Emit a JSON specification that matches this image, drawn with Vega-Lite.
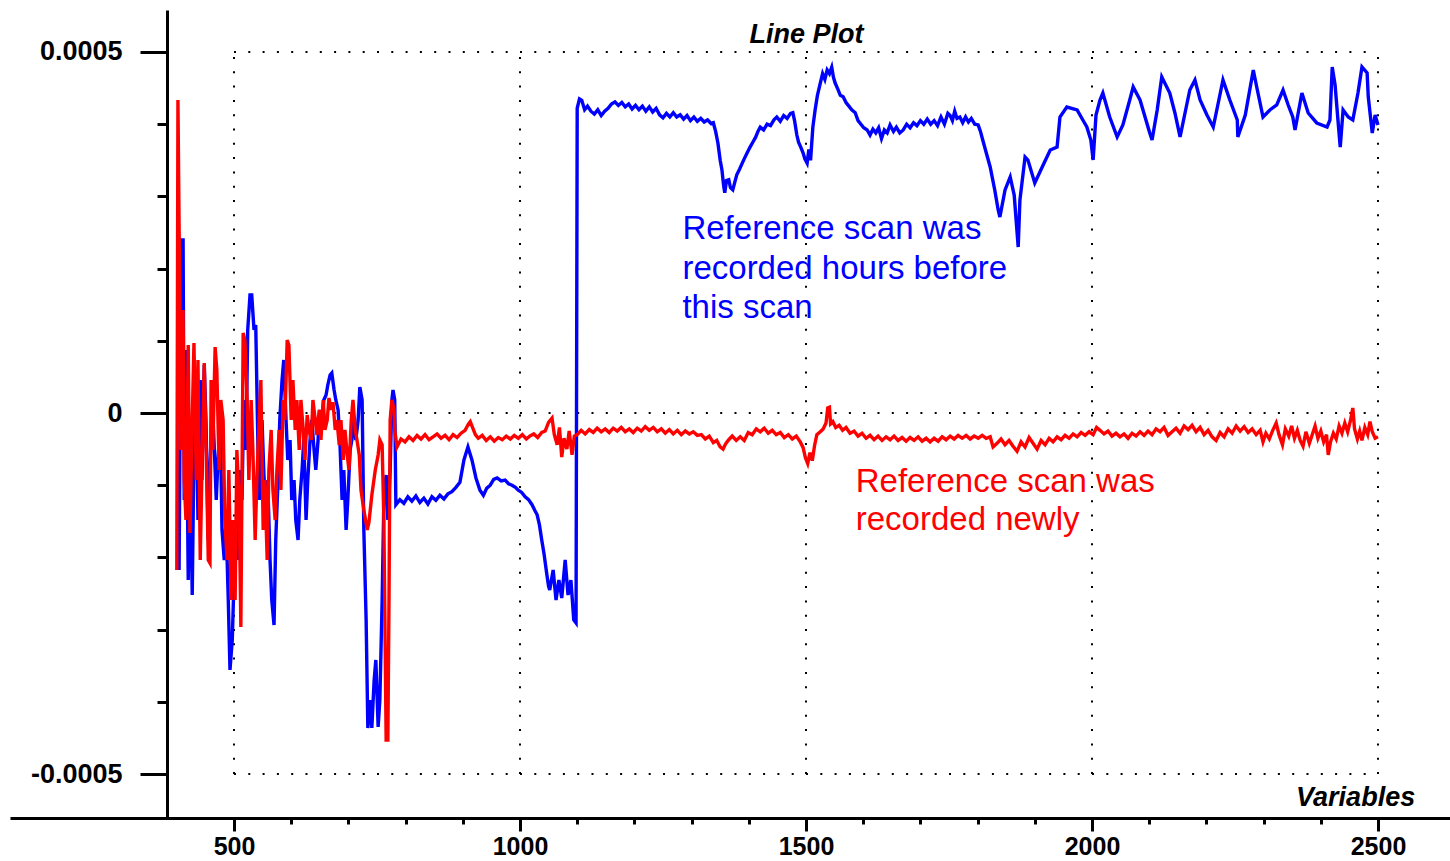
{
  "$schema": "https://vega.github.io/schema/vega-lite/v6.json",
  "width": 1440,
  "height": 808,
  "autosize": {"type": "none"},
  "padding": {"left": 10, "top": 10, "right": 0, "bottom": 43},
  "background": "white",
  "config": {"view": {"stroke": null}},
  "datasets": {
    "blue": [
      {"x":404,"y":-0.0002175},{"x":406,"y":0.0000180},{"x":407,"y":0.0002396},{"x":411,"y":0.0002396},{"x":413,"y":-0.0001205},{"x":416,"y":0.0000873},{"x":420,"y":-0.0002313},{"x":423,"y":-0.0000512},{"x":427,"y":-0.0002521},{"x":430,"y":-0.0000512},{"x":434,"y":0.0000180},{"x":437,"y":-0.0001482},{"x":441,"y":0.0000457},{"x":444,"y":-0.0000928},{"x":448,"y":0.0000665},{"x":451,"y":-0.0000097},{"x":455,"y":-0.0001759},{"x":458,"y":-0.0000789},{"x":462,"y":0.0000180},{"x":465,"y":-0.0000374},{"x":469,"y":-0.0001205},{"x":472,"y":-0.0000651},{"x":476,"y":-0.0000097},{"x":479,"y":-0.0001620},{"x":483,"y":-0.0002036},{"x":486,"y":-0.0001482},{"x":490,"y":-0.0002590},{"x":493,"y":-0.0003559},{"x":497,"y":-0.0003144},{"x":500,"y":-0.0002313},{"x":503,"y":-0.0001482},{"x":507,"y":-0.0002036},{"x":510,"y":-0.0000789},{"x":514,"y":-0.0001205},{"x":517,"y":0.0000180},{"x":521,"y":-0.0000512},{"x":524,"y":0.0001150},{"x":528,"y":0.0001634},{"x":531,"y":0.0001634},{"x":535,"y":0.0001150},{"x":538,"y":0.0001219},{"x":542,"y":-0.0000512},{"x":545,"y":-0.0001205},{"x":549,"y":-0.0000097},{"x":552,"y":-0.0000789},{"x":556,"y":-0.0001482},{"x":559,"y":-0.0000928},{"x":563,"y":-0.0002036},{"x":566,"y":-0.0002590},{"x":570,"y":-0.0002936},{"x":573,"y":-0.0001759},{"x":577,"y":-0.0000928},{"x":580,"y":-0.0000097},{"x":584,"y":0.0000457},{"x":587,"y":0.0000734},{"x":591,"y":-0.0000097},{"x":594,"y":-0.0000651},{"x":598,"y":-0.0000374},{"x":601,"y":-0.0001205},{"x":605,"y":-0.0000928},{"x":608,"y":-0.0001482},{"x":612,"y":-0.0001759},{"x":615,"y":-0.0001205},{"x":619,"y":-0.0000789},{"x":622,"y":-0.0000374},{"x":626,"y":-0.0001482},{"x":629,"y":-0.0000928},{"x":633,"y":-0.0000374},{"x":636,"y":-0.0000097},{"x":640,"y":-0.0000512},{"x":643,"y":-0.0000789},{"x":647,"y":-0.0000374},{"x":650,"y":0.0000042},{"x":654,"y":-0.0000097},{"x":657,"y":0.0000180},{"x":661,"y":0.0000249},{"x":664,"y":0.0000388},{"x":668,"y":0.0000526},{"x":671,"y":0.0000554},{"x":675,"y":0.0000319},{"x":678,"y":0.0000180},{"x":682,"y":0.0000042},{"x":685,"y":-0.0000374},{"x":689,"y":-0.0001205},{"x":692,"y":-0.0000789},{"x":696,"y":-0.0001620},{"x":699,"y":-0.0001205},{"x":703,"y":-0.0000512},{"x":706,"y":-0.0000374},{"x":710,"y":-0.0000097},{"x":713,"y":-0.0000374},{"x":717,"y":-0.0000097},{"x":720,"y":0.0000360},{"x":724,"y":0.0000180},{"x":727,"y":-0.0001620},{"x":731,"y":-0.0002867},{"x":734,"y":-0.0004363},{"x":738,"y":-0.0003975},{"x":741,"y":-0.0004363},{"x":745,"y":-0.0003698},{"x":748,"y":-0.0003421},{"x":752,"y":-0.0004349},{"x":755,"y":-0.0003975},{"x":759,"y":-0.0002590},{"x":762,"y":-0.0001205},{"x":766,"y":-0.0000859},{"x":769,"y":-0.0001482},{"x":773,"y":-0.0000789},{"x":776,"y":0.0000180},{"x":778,"y":0.0000319},{"x":781,"y":0.0000180},
      {"x":783,"y":-0.000127},{"x":790,"y":-0.000120},{"x":797,"y":-0.000125},{"x":804,"y":-0.000116},{"x":811,"y":-0.000122},{"x":818,"y":-0.000115},{"x":825,"y":-0.000124},{"x":832,"y":-0.000118},{"x":839,"y":-0.000126},{"x":846,"y":-0.000116},{"x":853,"y":-0.000121},{"x":860,"y":-0.000114},{"x":867,"y":-0.000119},{"x":874,"y":-0.000112},{"x":881,"y":-0.000109},{"x":888,"y":-0.000103},{"x":895,"y":-0.000096},{"x":902,"y":-0.000065},{"x":909,"y":-0.000047},{"x":916,"y":-0.000065},{"x":923,"y":-0.000090},{"x":930,"y":-0.000107},{"x":936,"y":-0.000114},{"x":942,"y":-0.000104},{"x":948,"y":-0.000100},{"x":954,"y":-0.000092},{"x":960,"y":-0.000090},{"x":967,"y":-0.000094},{"x":974,"y":-0.000093},{"x":980,"y":-0.000098},{"x":986,"y":-0.000100},{"x":992,"y":-0.000103},{"x":997,"y":-0.000107},{"x":1003,"y":-0.000110},{"x":1009,"y":-0.000116},{"x":1015,"y":-0.000120},{"x":1021,"y":-0.000127},{"x":1026,"y":-0.000135},{"x":1030,"y":-0.000141},{"x":1034,"y":-0.000155},{"x":1038,"y":-0.000176},{"x":1042,"y":-0.000195},{"x":1047,"y":-0.000224},{"x":1050,"y":-0.000240},{"x":1052,"y":-0.000245},{"x":1058,"y":-0.0002175},{"x":1063,"y":-0.0002590},{"x":1068,"y":-0.0002313},{"x":1073,"y":-0.0002562},{"x":1079,"y":-0.0002036},{"x":1084,"y":-0.0002521},{"x":1089,"y":-0.0002313},{"x":1094,"y":-0.0002867},{"x":1098,"y":-0.0002909},
      {"x":1100,"y":0.000422},{"x":1104,"y":0.000435},{"x":1108,"y":0.000433},{"x":1113,"y":0.000420},{"x":1118,"y":0.000425},{"x":1124,"y":0.000418},{"x":1130,"y":0.000414},{"x":1136,"y":0.000420},{"x":1142,"y":0.000412},{"x":1148,"y":0.000418},{"x":1154,"y":0.000422},{"x":1160,"y":0.000428},{"x":1166,"y":0.000431},{"x":1172,"y":0.000426},{"x":1178,"y":0.000430},{"x":1184,"y":0.000424},{"x":1190,"y":0.000428},{"x":1196,"y":0.000421},{"x":1202,"y":0.000426},{"x":1208,"y":0.000420},{"x":1214,"y":0.000425},{"x":1220,"y":0.000418},{"x":1226,"y":0.000424},{"x":1232,"y":0.000417},{"x":1238,"y":0.000422},{"x":1244,"y":0.000413},{"x":1250,"y":0.000409},{"x":1256,"y":0.000415},{"x":1262,"y":0.000410},{"x":1268,"y":0.000416},{"x":1274,"y":0.000410},{"x":1280,"y":0.000413},{"x":1286,"y":0.000407},{"x":1292,"y":0.000412},{"x":1298,"y":0.000405},{"x":1304,"y":0.000410},{"x":1310,"y":0.000404},{"x":1316,"y":0.000408},{"x":1322,"y":0.000403},{"x":1328,"y":0.000406},{"x":1334,"y":0.000401},{"x":1338,"y":0.000402},{"x":1342,"y":0.000390},{"x":1346,"y":0.000374},{"x":1350,"y":0.000350},{"x":1353,"y":0.000337},{"x":1356,"y":0.000315},{"x":1358,"y":0.000305},{"x":1361,"y":0.000322},{"x":1365,"y":0.000323},{"x":1368,"y":0.000312},{"x":1372,"y":0.000309},{"x":1375,"y":0.000318},{"x":1379,"y":0.000330},{"x":1384,"y":0.000338},{"x":1388,"y":0.000345},{"x":1392,"y":0.000352},{"x":1397,"y":0.000360},{"x":1402,"y":0.000368},{"x":1407,"y":0.000375},{"x":1412,"y":0.000382},{"x":1416,"y":0.000390},{"x":1420,"y":0.000396},{"x":1426,"y":0.000392},{"x":1432,"y":0.000400},{"x":1438,"y":0.000398},{"x":1444,"y":0.000406},{"x":1449,"y":0.000410},{"x":1455,"y":0.000404},{"x":1461,"y":0.000412},{"x":1467,"y":0.000408},{"x":1473,"y":0.000415},{"x":1477,"y":0.000416},{"x":1480,"y":0.000405},{"x":1484,"y":0.000385},{"x":1487,"y":0.000375},{"x":1491,"y":0.000368},{"x":1495,"y":0.000360},{"x":1498,"y":0.000352},{"x":1502,"y":0.000346},{"x":1505,"y":0.000365},{"x":1508,"y":0.000350},{"x":1512,"y":0.000396},{"x":1516,"y":0.000420},{"x":1520,"y":0.000440},{"x":1525,"y":0.000457},{"x":1529,"y":0.000470},{"x":1533,"y":0.000462},{"x":1537,"y":0.000475},{"x":1541,"y":0.000470},{"x":1545,"y":0.000479},{"x":1548,"y":0.000465},{"x":1551,"y":0.000457},{"x":1556,"y":0.000448},{"x":1560,"y":0.000440},{"x":1565,"y":0.000438},{"x":1570,"y":0.000430},{"x":1575,"y":0.000425},{"x":1580,"y":0.000420},{"x":1586,"y":0.000416},{"x":1591,"y":0.000405},{"x":1596,"y":0.000400},{"x":1601,"y":0.000395},{"x":1607,"y":0.000392},{"x":1612,"y":0.000385},{"x":1617,"y":0.000393},{"x":1622,"y":0.000388},{"x":1627,"y":0.000395},{"x":1632,"y":0.000380},{"x":1637,"y":0.000392},{"x":1642,"y":0.000388},{"x":1647,"y":0.000399},{"x":1653,"y":0.000390},{"x":1658,"y":0.000396},{"x":1664,"y":0.000388},{"x":1670,"y":0.000392},{"x":1676,"y":0.000400},{"x":1682,"y":0.000395},{"x":1688,"y":0.000402},{"x":1694,"y":0.000398},{"x":1700,"y":0.000405},{"x":1706,"y":0.000400},{"x":1712,"y":0.000407},{"x":1718,"y":0.000400},{"x":1724,"y":0.000405},{"x":1730,"y":0.000398},{"x":1736,"y":0.000410},{"x":1742,"y":0.000400},{"x":1748,"y":0.000415},{"x":1752,"y":0.000412},{"x":1756,"y":0.000405},{"x":1760,"y":0.000418},{"x":1764,"y":0.000408},{"x":1769,"y":0.000410},{"x":1774,"y":0.000402},{"x":1779,"y":0.000410},{"x":1784,"y":0.000403},{"x":1789,"y":0.000408},{"x":1795,"y":0.000400},{"x":1801,"y":0.000399},{"x":1805,"y":0.000390},
      {"x":1809,"y":0.0003781},{"x":1822,"y":0.0003407},{"x":1830,"y":0.0003089},{"x":1836,"y":0.0002812},{"x":1839,"y":0.0002715},{"x":1848,"y":0.0003089},{"x":1857,"y":0.0003269},{"x":1864,"y":0.0003019},{"x":1871,"y":0.0002299},{"x":1874,"y":0.0002950},{"x":1883,"y":0.0003546},{"x":1888,"y":0.0003504},{"x":1900,"y":0.0003186},{"x":1913,"y":0.0003407},{"x":1927,"y":0.0003643},{"x":1939,"y":0.0003684},{"x":1944,"y":0.0004100},{"x":1956,"y":0.0004238},{"x":1974,"y":0.0004197},{"x":1984,"y":0.0004058},{"x":1991,"y":0.0003961},{"x":1998,"y":0.0003781},{"x":2002,"y":0.0003504},{"x":2007,"y":0.0004127},{"x":2014,"y":0.0004335},{"x":2019,"y":0.0004432},{"x":2031,"y":0.0004100},{"x":2044,"y":0.0003823},{"x":2054,"y":0.0003989},{"x":2066,"y":0.0004335},{"x":2072,"y":0.0004515},{"x":2084,"y":0.0004335},{"x":2101,"y":0.0003878},{"x":2105,"y":0.0003781},{"x":2114,"y":0.0004197},{"x":2122,"y":0.0004654},{"x":2136,"y":0.0004432},{"x":2145,"y":0.0004155},{"x":2154,"y":0.0003823},{"x":2163,"y":0.0004169},{"x":2171,"y":0.0004474},{"x":2180,"y":0.0004612},{"x":2189,"y":0.0004335},{"x":2201,"y":0.0004127},{"x":2212,"y":0.0003961},{"x":2220,"y":0.0004266},{"x":2229,"y":0.0004612},{"x":2241,"y":0.0004335},{"x":2254,"y":0.0004058},{"x":2255,"y":0.0003823},{"x":2268,"y":0.0004127},{"x":2282,"y":0.0004751},{"x":2288,"y":0.0004515},{"x":2299,"y":0.0004100},{"x":2311,"y":0.0004197},{"x":2323,"y":0.0004266},{"x":2334,"y":0.0004474},{"x":2343,"y":0.0004266},{"x":2351,"y":0.0004100},{"x":2355,"y":0.0003920},{"x":2367,"y":0.0004432},{"x":2378,"y":0.0004155},{"x":2393,"y":0.0004017},{"x":2411,"y":0.0003961},{"x":2416,"y":0.0004058},{"x":2420,"y":0.0004792},{"x":2425,"y":0.0004543},{"x":2430,"y":0.0004058},{"x":2434,"y":0.0003684},{"x":2439,"y":0.0004197},{"x":2448,"y":0.0004100},{"x":2456,"y":0.0004058},{"x":2465,"y":0.0004432},{"x":2472,"y":0.0004792},{"x":2481,"y":0.0004709},{"x":2483,"y":0.0004377},{"x":2490,"y":0.0003878},{"x":2495,"y":0.0004127},{"x":2500,"y":0.0003989}
    ],
    "red": [
      {"x":400,"y":-0.0002175},{"x":402,"y":0.0004335},{"x":406,"y":0.0000873},{"x":407,"y":-0.0000512},{"x":411,"y":0.0001427},{"x":413,"y":-0.0000928},{"x":416,"y":-0.0001482},{"x":420,"y":0.0000942},{"x":423,"y":-0.0001662},{"x":427,"y":-0.0000097},{"x":430,"y":0.0000970},{"x":434,"y":-0.0000928},{"x":437,"y":0.0000734},{"x":441,"y":-0.0002036},{"x":444,"y":-0.0000789},{"x":448,"y":0.0000693},{"x":451,"y":-0.0000374},{"x":455,"y":-0.0002036},{"x":458,"y":-0.0002078},{"x":460,"y":0.0000457},{"x":463,"y":-0.0000512},{"x":467,"y":0.0000914},{"x":470,"y":0.0000596},{"x":474,"y":-0.0000789},{"x":477,"y":0.0000180},{"x":481,"y":-0.0000097},{"x":484,"y":-0.0001482},{"x":488,"y":-0.0002036},{"x":491,"y":-0.0000789},{"x":495,"y":-0.0002590},{"x":498,"y":-0.0001482},{"x":502,"y":-0.0002590},{"x":505,"y":-0.0000512},{"x":509,"y":-0.0001205},{"x":512,"y":-0.0002964},{"x":516,"y":0.0001108},{"x":519,"y":0.0001011},{"x":523,"y":0.0000180},{"x":526,"y":-0.0000928},{"x":530,"y":0.0000180},{"x":533,"y":-0.0000512},{"x":537,"y":-0.0001759},{"x":540,"y":-0.0000928},{"x":544,"y":-0.0000097},{"x":547,"y":0.0000457},{"x":551,"y":-0.0001620},{"x":554,"y":-0.0000928},{"x":558,"y":-0.0002036},{"x":561,"y":-0.0000789},{"x":565,"y":-0.0000235},{"x":568,"y":-0.0001066},{"x":572,"y":-0.0001482},{"x":575,"y":-0.0000789},{"x":579,"y":-0.0000235},{"x":582,"y":-0.0001066},{"x":586,"y":0.0000180},{"x":589,"y":-0.0000097},{"x":593,"y":0.0001011},{"x":596,"y":0.0000942},{"x":600,"y":-0.0000097},{"x":603,"y":0.0000457},{"x":607,"y":-0.0000235},{"x":610,"y":0.0000180},{"x":614,"y":-0.0000512},{"x":617,"y":0.0000180},{"x":621,"y":-0.0000235},{"x":624,"y":-0.0000651},{"x":628,"y":-0.0000028},{"x":631,"y":-0.0000235},{"x":635,"y":-0.0000374},{"x":638,"y":0.0000180},{"x":642,"y":-0.0000097},{"x":645,"y":-0.0000305},{"x":649,"y":0.0000042},{"x":652,"y":-0.0000374},{"x":656,"y":0.0000180},{"x":659,"y":-0.0000235},{"x":663,"y":-0.0000097},{"x":666,"y":0.0000208},{"x":670,"y":0.0000042},{"x":673,"y":0.0000152},{"x":677,"y":-0.0000235},{"x":680,"y":-0.0000097},{"x":684,"y":-0.0000443},{"x":687,"y":-0.0000097},{"x":691,"y":-0.0000651},{"x":694,"y":-0.0000235},{"x":698,"y":-0.0000582},{"x":701,"y":-0.0000789},{"x":705,"y":-0.0000097},{"x":708,"y":0.0000180},{"x":712,"y":-0.0000235},{"x":715,"y":-0.0000374},{"x":719,"y":-0.0000582},{"x":722,"y":-0.0001066},{"x":727,"y":-0.0001343},{"x":733,"y":-0.0001620},{"x":736,"y":-0.0001510},{"x":741,"y":-0.0001136},{"x":747,"y":-0.0000789},{"x":752,"y":-0.0000582},{"x":755,"y":-0.0000374},{"x":759,"y":-0.0000443},{"x":762,"y":-0.0001482},{"x":766,"y":-0.0004529},{"x":769,"y":-0.0004529},{"x":771,"y":-0.0002590},{"x":773,"y":-0.0000097},{"x":776,"y":0.0000180},{"x":780,"y":0.0000042},{"x":781,"y":-0.0000235},
      {"x":785,"y":-0.000047},{"x":792,"y":-0.000036},{"x":799,"y":-0.000040},{"x":806,"y":-0.000033},{"x":813,"y":-0.000038},{"x":820,"y":-0.000031},{"x":827,"y":-0.000036},{"x":834,"y":-0.000030},{"x":841,"y":-0.000037},{"x":848,"y":-0.000033},{"x":855,"y":-0.000029},{"x":862,"y":-0.000035},{"x":869,"y":-0.000031},{"x":876,"y":-0.000037},{"x":883,"y":-0.000030},{"x":890,"y":-0.000034},{"x":897,"y":-0.000028},{"x":904,"y":-0.000024},{"x":910,"y":-0.000015},{"x":913,"y":-0.000012},{"x":917,"y":-0.000020},{"x":922,"y":-0.000030},{"x":927,"y":-0.000035},{"x":934,"y":-0.000031},{"x":941,"y":-0.000038},{"x":948,"y":-0.000033},{"x":955,"y":-0.000039},{"x":962,"y":-0.000034},{"x":969,"y":-0.000037},{"x":976,"y":-0.000032},{"x":983,"y":-0.000036},{"x":990,"y":-0.000031},{"x":997,"y":-0.000035},{"x":1004,"y":-0.000030},{"x":1011,"y":-0.000036},{"x":1017,"y":-0.000032},{"x":1024,"y":-0.000029},{"x":1031,"y":-0.000034},{"x":1038,"y":-0.000027},{"x":1044,"y":-0.000025},{"x":1050,"y":-0.000013},{"x":1056,"y":-0.000007},{"x":1060,"y":-0.000030},{"x":1065,"y":-0.000044},{"x":1069,"y":-0.000020},{"x":1073,"y":-0.000061},{"x":1077,"y":-0.000035},{"x":1082,"y":-0.000050},{"x":1086,"y":-0.000025},{"x":1091,"y":-0.000058},{"x":1095,"y":-0.000032},{"x":1100,"y":-0.000030},{"x":1107,"y":-0.000024},{"x":1114,"y":-0.000029},{"x":1121,"y":-0.000023},{"x":1128,"y":-0.000027},{"x":1135,"y":-0.000021},{"x":1142,"y":-0.000026},{"x":1149,"y":-0.000022},{"x":1156,"y":-0.000027},{"x":1163,"y":-0.000021},{"x":1170,"y":-0.000025},{"x":1177,"y":-0.000020},{"x":1184,"y":-0.000026},{"x":1191,"y":-0.000022},{"x":1198,"y":-0.000027},{"x":1205,"y":-0.000021},{"x":1212,"y":-0.000025},{"x":1219,"y":-0.000019},{"x":1226,"y":-0.000024},{"x":1233,"y":-0.000020},{"x":1240,"y":-0.000026},{"x":1247,"y":-0.000022},{"x":1254,"y":-0.000028},{"x":1261,"y":-0.000023},{"x":1268,"y":-0.000029},{"x":1275,"y":-0.000024},{"x":1282,"y":-0.000030},{"x":1289,"y":-0.000025},{"x":1296,"y":-0.000029},{"x":1303,"y":-0.000026},{"x":1310,"y":-0.000031},{"x":1317,"y":-0.000030},{"x":1324,"y":-0.000036},{"x":1331,"y":-0.000032},{"x":1338,"y":-0.000041},{"x":1344,"y":-0.000038},{"x":1350,"y":-0.000047},{"x":1355,"y":-0.000050},{"x":1360,"y":-0.000042},{"x":1365,"y":-0.000037},{"x":1371,"y":-0.000032},{"x":1378,"y":-0.000038},{"x":1385,"y":-0.000033},{"x":1392,"y":-0.000038},{"x":1399,"y":-0.000027},{"x":1406,"y":-0.000030},{"x":1413,"y":-0.000022},{"x":1420,"y":-0.000026},{"x":1427,"y":-0.000021},{"x":1434,"y":-0.000028},{"x":1441,"y":-0.000024},{"x":1448,"y":-0.000030},{"x":1455,"y":-0.000027},{"x":1462,"y":-0.000034},{"x":1469,"y":-0.000030},{"x":1476,"y":-0.000036},{"x":1483,"y":-0.000032},{"x":1490,"y":-0.000040},{"x":1495,"y":-0.000048},{"x":1499,"y":-0.000062},{"x":1503,"y":-0.000070},{"x":1507,"y":-0.000055},{"x":1511,"y":-0.000066},{"x":1515,"y":-0.000045},{"x":1519,"y":-0.000030},{"x":1525,"y":-0.000026},{"x":1530,"y":-0.000022},{"x":1535,"y":-0.000014},{"x":1538,"y":0.000007},{"x":1541,"y":0.000008},{"x":1543,"y":-0.000015},{"x":1547,"y":-0.000012},{"x":1552,"y":-0.000020},{"x":1558,"y":-0.000017},{"x":1564,"y":-0.000024},{"x":1570,"y":-0.000020},{"x":1577,"y":-0.000028},{"x":1584,"y":-0.000025},{"x":1591,"y":-0.000032},{"x":1598,"y":-0.000028},{"x":1605,"y":-0.000035},{"x":1612,"y":-0.000031},{"x":1619,"y":-0.000037},{"x":1626,"y":-0.000032},{"x":1633,"y":-0.000038},{"x":1640,"y":-0.000033},{"x":1647,"y":-0.000037},{"x":1654,"y":-0.000032},{"x":1661,"y":-0.000038},{"x":1668,"y":-0.000034},{"x":1675,"y":-0.000039},{"x":1682,"y":-0.000034},{"x":1689,"y":-0.000038},{"x":1696,"y":-0.000033},{"x":1703,"y":-0.000039},{"x":1710,"y":-0.000035},{"x":1717,"y":-0.000040},{"x":1724,"y":-0.000035},{"x":1731,"y":-0.000039},{"x":1738,"y":-0.000033},{"x":1745,"y":-0.000037},{"x":1752,"y":-0.000032},{"x":1759,"y":-0.000036},{"x":1766,"y":-0.000031},{"x":1773,"y":-0.000035},{"x":1780,"y":-0.000031},{"x":1787,"y":-0.000036},{"x":1794,"y":-0.000032},{"x":1801,"y":-0.000035},{"x":1808,"y":-0.000031},{"x":1815,"y":-0.000035},{"x":1822,"y":-0.000033},{"x":1827,"y":-0.000047},{"x":1834,"y":-0.000042},{"x":1841,"y":-0.000036},{"x":1848,"y":-0.000044},{"x":1855,"y":-0.000038},{"x":1862,"y":-0.000046},{"x":1869,"y":-0.000053},{"x":1876,"y":-0.000040},{"x":1883,"y":-0.000047},{"x":1890,"y":-0.000034},{"x":1897,"y":-0.000042},{"x":1904,"y":-0.000050},{"x":1911,"y":-0.000038},{"x":1918,"y":-0.000044},{"x":1925,"y":-0.000035},{"x":1932,"y":-0.000040},{"x":1939,"y":-0.000033},{"x":1946,"y":-0.000037},{"x":1953,"y":-0.000031},{"x":1960,"y":-0.000035},{"x":1967,"y":-0.000029},{"x":1974,"y":-0.000033},{"x":1981,"y":-0.000027},{"x":1988,"y":-0.000031},{"x":1995,"y":-0.000026},{"x":2002,"y":-0.000030},{"x":2008,"y":-0.000020},{"x":2014,"y":-0.000024},{"x":2021,"y":-0.000029},{"x":2028,"y":-0.000025},{"x":2035,"y":-0.000032},{"x":2042,"y":-0.000028},{"x":2049,"y":-0.000033},{"x":2056,"y":-0.000029},{"x":2063,"y":-0.000035},{"x":2070,"y":-0.000028},{"x":2077,"y":-0.000032},{"x":2084,"y":-0.000026},{"x":2091,"y":-0.000031},{"x":2098,"y":-0.000025},{"x":2105,"y":-0.000030},{"x":2112,"y":-0.000022},{"x":2119,"y":-0.000026},{"x":2126,"y":-0.000020},{"x":2133,"y":-0.000031},{"x":2140,"y":-0.000026},{"x":2147,"y":-0.000021},{"x":2154,"y":-0.000028},{"x":2161,"y":-0.000018},{"x":2168,"y":-0.000023},{"x":2175,"y":-0.000017},{"x":2182,"y":-0.000026},{"x":2189,"y":-0.000020},{"x":2196,"y":-0.000030},{"x":2203,"y":-0.000024},{"x":2210,"y":-0.000033},{"x":2217,"y":-0.000038},{"x":2224,"y":-0.000027},{"x":2231,"y":-0.000033},{"x":2238,"y":-0.000022},{"x":2245,"y":-0.000028},{"x":2252,"y":-0.000018},{"x":2259,"y":-0.000025},{"x":2266,"y":-0.000019},{"x":2273,"y":-0.000027},{"x":2280,"y":-0.000022},{"x":2287,"y":-0.000030},{"x":2294,"y":-0.000024},{"x":2299,"y":-0.000040},{"x":2304,"y":-0.000028},{"x":2310,"y":-0.000036},{"x":2316,"y":-0.000024},{"x":2322,"y":-0.000014},{"x":2327,"y":-0.000030},{"x":2333,"y":-0.000044},{"x":2338,"y":-0.000022},{"x":2344,"y":-0.000032},{"x":2349,"y":-0.000018},{"x":2354,"y":-0.000035},{"x":2359,"y":-0.000024},{"x":2364,"y":-0.000038},{"x":2369,"y":-0.000046},{"x":2374,"y":-0.000026},{"x":2380,"y":-0.000042},{"x":2385,"y":-0.000030},{"x":2390,"y":-0.000018},{"x":2395,"y":-0.000035},{"x":2400,"y":-0.000025},{"x":2405,"y":-0.000040},{"x":2410,"y":-0.000030},{"x":2413,"y":-0.000058},{"x":2417,"y":-0.000040},{"x":2422,"y":-0.000028},{"x":2427,"y":-0.000036},{"x":2432,"y":-0.000018},{"x":2437,"y":-0.000028},{"x":2442,"y":-0.000014},{"x":2447,"y":-0.000026},{"x":2452,"y":-0.000010},{"x":2456,"y":0.000007},{"x":2459,"y":-0.000022},{"x":2464,"y":-0.000036},{"x":2468,"y":-0.000025},{"x":2472,"y":-0.000038},{"x":2477,"y":-0.000020},{"x":2482,"y":-0.000030},{"x":2486,"y":-0.000012},{"x":2490,"y":-0.000026},{"x":2495,"y":-0.000035},{"x":2500,"y":-0.000033}
    ],
    "vgrid": [
      {"x":500,"y":-0.0005,"y2":0.0005},{"x":1000,"y":-0.0005,"y2":0.0005},{"x":1500,"y":-0.0005,"y2":0.0005},{"x":2000,"y":-0.0005,"y2":0.0005},{"x":2500,"y":-0.0005,"y2":0.0005}
    ],
    "hgrid": [
      {"x":500,"x2":2500,"y":-0.0005},{"x":500,"x2":2500,"y":0},{"x":500,"x2":2500,"y":0.0005}
    ]
  },
  "encoding": {
    "x": {
      "field": "x", "type": "quantitative",
      "scale": {"domain": [108.4, 2625.9], "nice": false, "zero": false},
      "axis": {
        "values": [500,600,700,800,900,1000,1100,1200,1300,1400,1500,1600,1700,1800,1900,2000,2100,2200,2300,2400,2500],
        "title": null, "grid": false, "format": "d",
        "domainColor": "black", "domainWidth": 3,
        "tickColor": "black", "tickWidth": 3,
        "tickSize": {"condition": {"test": "datum.value % 500 === 0", "value": 13}, "value": 6},
        "labelExpr": "datum.value % 500 === 0 ? datum.label : ''",
        "labelFont": "Liberation Sans", "labelFontSize": 25, "labelFontWeight": "bold", "labelColor": "black",
        "labelPadding": 3, "labelFlush": false, "labelOverlap": false, "labelBound": false
      }
    },
    "y": {
      "field": "y", "type": "quantitative",
      "scale": {"domain": [-0.00056094, 0.00055817], "nice": false, "zero": false},
      "axis": {
        "values": [-0.0005,-0.0004,-0.0003,-0.0002,-0.0001,0,0.0001,0.0002,0.0003,0.0004,0.0005],
        "title": null, "grid": false, "offset": -157,
        "domainColor": "black", "domainWidth": 3,
        "tickColor": "black", "tickWidth": 3,
        "tickSize": {"condition": {"test": "abs(datum.value) < 1e-9 || abs(abs(datum.value) - 0.0005) < 1e-9", "value": 27}, "value": 10},
        "labelExpr": "abs(datum.value) < 1e-9 ? '0' : abs(datum.value - 0.0005) < 1e-9 ? '0.0005' : abs(datum.value + 0.0005) < 1e-9 ? '-0.0005' : ''",
        "labelFont": "Liberation Sans", "labelFontSize": 27, "labelFontWeight": "bold", "labelColor": "black",
        "labelPadding": 18, "labelOverlap": false, "labelBound": false, "labelFlush": false
      }
    }
  },
  "layer": [
    {
      "data": {"name": "vgrid"},
      "mark": {"type": "rule", "color": "black", "strokeWidth": 2, "strokeDash": [2, 12.3]},
      "encoding": {"y2": {"field": "y2"}}
    },
    {
      "data": {"name": "hgrid"},
      "mark": {"type": "rule", "color": "black", "strokeWidth": 2, "strokeDash": [2, 12.3]},
      "encoding": {"x2": {"field": "x2"}}
    },
    {
      "data": {"name": "blue"},
      "mark": {"type": "line", "color": "#0000ff", "strokeWidth": 3.4},
      "encoding": {"order": {"value": null}}
    },
    {
      "data": {"name": "red"},
      "mark": {"type": "line", "color": "#ff0000", "strokeWidth": 3.4},
      "encoding": {"order": {"value": null}}
    },
    {
      "data": {"values": [{"x": 1501, "y": 0.0005125, "label": "Line Plot"}]},
      "mark": {"type": "text", "font": "Liberation Sans", "fontSize": 27, "fontStyle": "italic", "fontWeight": "bold", "color": "black", "align": "center", "baseline": "alphabetic"},
      "encoding": {"text": {"field": "label"}}
    },
    {
      "data": {"values": [{"x": 2565, "y": -0.000545, "label": "Variables"}]},
      "mark": {"type": "text", "font": "Liberation Sans", "fontSize": 27, "fontStyle": "italic", "fontWeight": "bold", "color": "black", "align": "right", "baseline": "alphabetic"},
      "encoding": {"text": {"field": "label"}}
    },
    {
      "data": {"values": [{"x": 1284, "y": 0.0002406, "label": "Reference scan was\nrecorded hours before\nthis scan"}]},
      "mark": {"type": "text", "font": "Liberation Sans", "fontSize": 33, "color": "#0000ff", "align": "left", "baseline": "alphabetic", "lineBreak": "\n", "lineHeight": 39.5},
      "encoding": {"text": {"field": "label"}}
    },
    {
      "data": {"values": [{"x": 1587, "y": -0.000109, "label": "Reference scan was\nrecorded newly"}]},
      "mark": {"type": "text", "font": "Liberation Sans", "fontSize": 33, "color": "#ff0000", "align": "left", "baseline": "alphabetic", "lineBreak": "\n", "lineHeight": 38.5},
      "encoding": {"text": {"field": "label"}}
    }
  ]
}
